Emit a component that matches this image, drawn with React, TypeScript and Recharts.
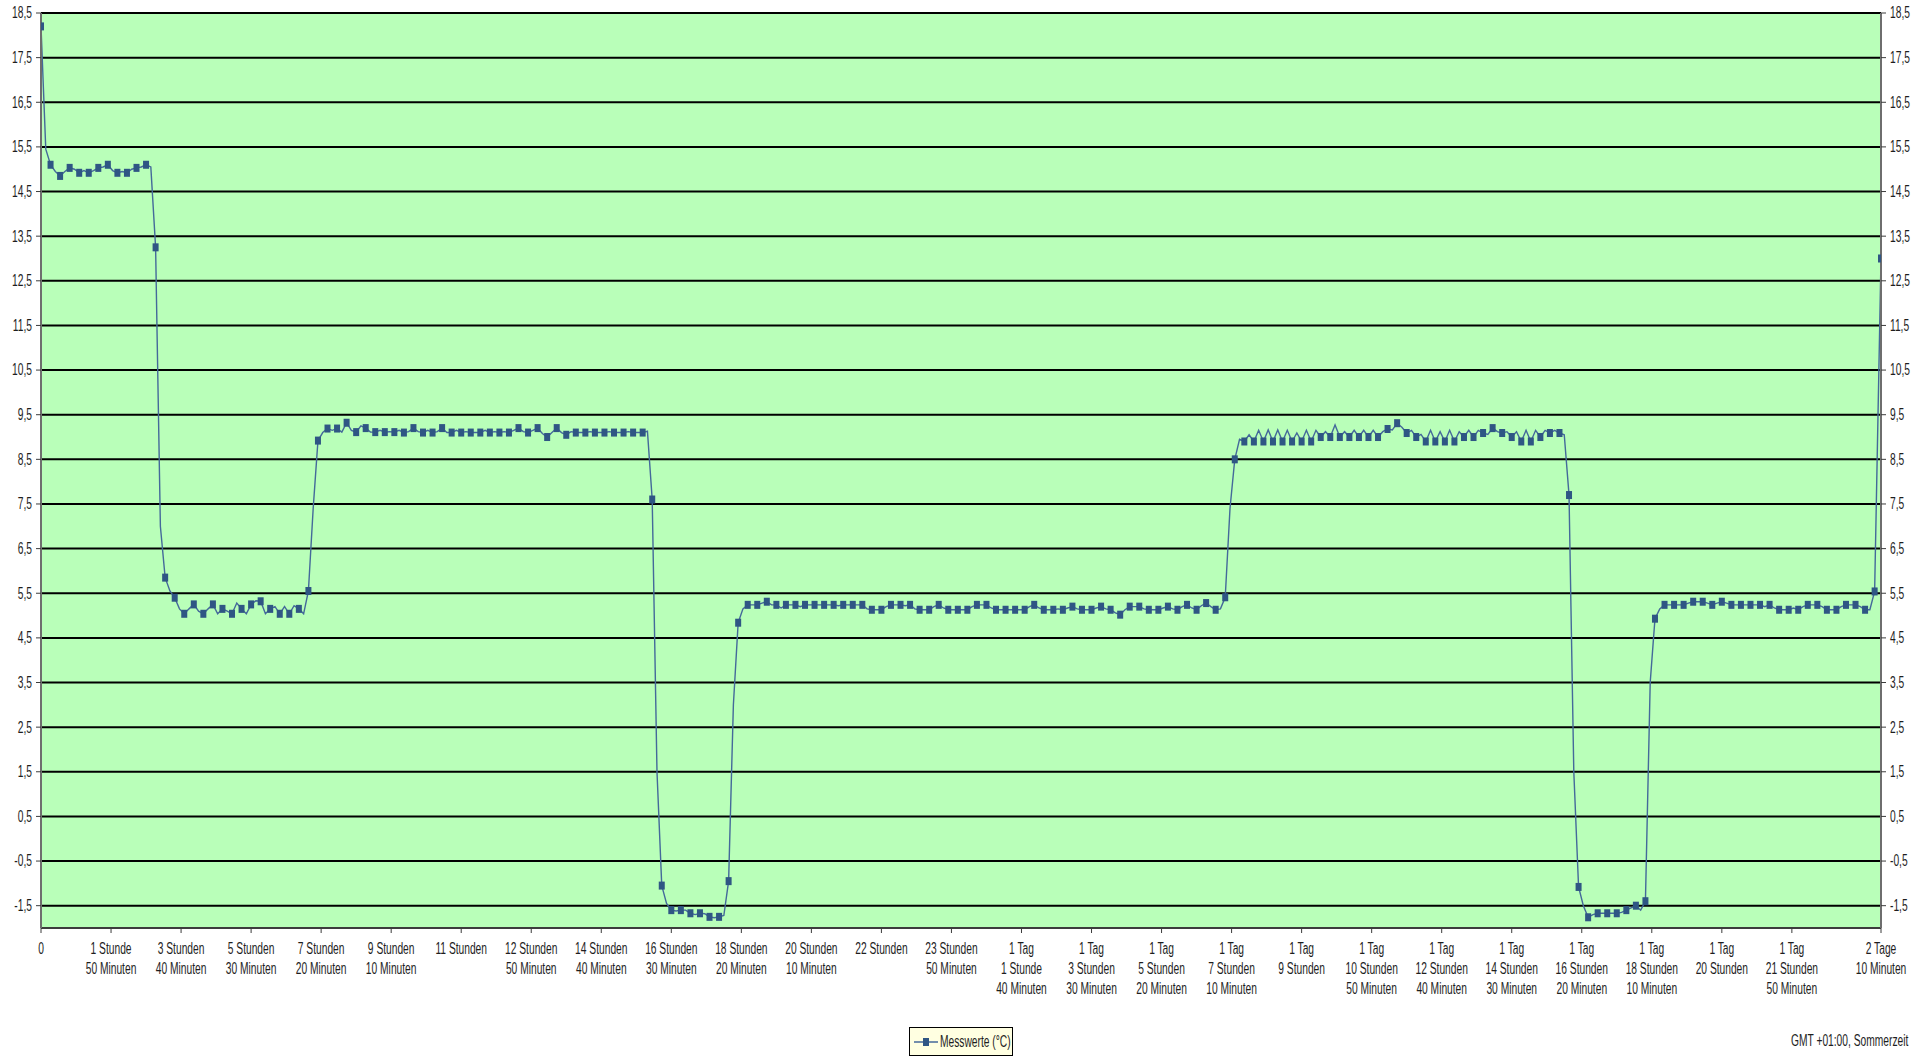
import React from 'react';
import { LineChart, Line, XAxis, YAxis, CartesianGrid } from 'recharts';

// Messpunkte alle 15 Minuten (mit Marker), dazwischen je ein Zwischenwert ohne Marker
const messIntervall = 15;
const endMinute = 2890;
const endWert = 13.0;

const messwerte = [
  18.2, 15.1, 14.85, 15.03, 14.92, 14.92, 15.03, 15.1, 14.92, 14.92,
  15.03, 15.1, 13.25, 5.85, 5.4, 5.04, 5.25, 5.04, 5.25, 5.15,
  5.04, 5.15, 5.25, 5.32, 5.15, 5.04, 5.04, 5.15, 5.55, 8.92,
  9.19, 9.19, 9.32, 9.11, 9.2, 9.11, 9.11, 9.11, 9.1, 9.2,
  9.1, 9.1, 9.2, 9.1, 9.1, 9.1, 9.1, 9.1, 9.1, 9.1,
  9.2, 9.1, 9.2, 9.0, 9.2, 9.05, 9.1, 9.1, 9.1, 9.1,
  9.1, 9.1, 9.1, 9.1, 7.6, -1.05, -1.6, -1.6, -1.67, -1.67,
  -1.75, -1.75, -0.95, 4.84, 5.24, 5.24, 5.31, 5.24, 5.24, 5.24,
  5.24, 5.24, 5.24, 5.24, 5.24, 5.24, 5.24, 5.13, 5.13, 5.24,
  5.24, 5.24, 5.13, 5.13, 5.24, 5.13, 5.13, 5.13, 5.24, 5.24,
  5.13, 5.13, 5.13, 5.13, 5.24, 5.13, 5.13, 5.13, 5.2, 5.13,
  5.13, 5.2, 5.13, 5.02, 5.2, 5.2, 5.13, 5.13, 5.2, 5.13,
  5.24, 5.13, 5.28, 5.13, 5.41, 8.5, 8.9, 8.9, 8.9, 8.9,
  8.9, 8.9, 8.9, 8.9, 9.0, 9.0, 9.0, 9.0, 9.0, 9.0,
  9.0, 9.18, 9.31, 9.09, 9.0, 8.9, 8.9, 8.9, 8.9, 9.0,
  9.0, 9.09, 9.2, 9.09, 9.0, 8.9, 8.9, 9.0, 9.09, 9.09,
  7.7, -1.08, -1.76, -1.67, -1.67, -1.67, -1.6, -1.5, -1.4, 4.93,
  5.24, 5.24, 5.24, 5.31, 5.31, 5.24, 5.31, 5.24, 5.24, 5.24,
  5.24, 5.24, 5.13, 5.13, 5.13, 5.24, 5.24, 5.13, 5.13, 5.24,
  5.24, 5.13, 5.54,
];

const zwischenwerte = [
  15.45, 14.95, 14.95, 15.0, 14.97, 14.97, 15.05, 14.97, 14.95, 15.0,
  15.05, 15.05, 7.0, 5.55, 5.15, 5.15, 5.1, 5.15, 5.04, 5.1,
  5.28, 5.04, 5.33, 5.04, 5.2, 5.2, 5.22, 5.04, 7.4, 9.1,
  9.15, 9.11, 9.15, 9.25, 9.11, 9.15, 9.12, 9.15, 9.12, 9.12,
  9.15, 9.12, 9.1, 9.15, 9.12, 9.1, 9.15, 9.12, 9.12, 9.15,
  9.12, 9.15, 9.08, 9.1, 9.1, 9.12, 9.1, 9.12, 9.1, 9.12,
  9.1, 9.12, 9.1, 9.13, 1.5, -1.45, -1.62, -1.6, -1.7, -1.68,
  -1.77, -1.72, 3.0, 5.15, 5.24, 5.28, 5.24, 5.17, 5.24, 5.2,
  5.24, 5.24, 5.24, 5.22, 5.24, 5.24, 5.15, 5.13, 5.2, 5.24,
  5.22, 5.15, 5.13, 5.2, 5.17, 5.13, 5.13, 5.2, 5.24, 5.17,
  5.13, 5.13, 5.13, 5.2, 5.17, 5.13, 5.15, 5.17, 5.15, 5.13,
  5.17, 5.15, 5.06, 5.13, 5.2, 5.15, 5.13, 5.17, 5.15, 5.2,
  5.17, 5.22, 5.2, 5.15, 7.4, 8.95, 9.05, 9.15, 9.16, 9.16,
  9.15, 9.09, 9.15, 9.15, 9.12, 9.27, 9.12, 9.15, 9.15, 9.15,
  9.12, 9.16, 9.22, 9.15, 9.06, 9.15, 9.12, 9.15, 9.12, 9.15,
  9.15, 9.06, 9.12, 9.12, 9.12, 9.15, 9.15, 9.15, 9.15, 9.05,
  1.5, -1.5, -1.7, -1.67, -1.67, -1.65, -1.55, -1.6, 3.5, 5.15,
  5.24, 5.24, 5.28, 5.31, 5.28, 5.28, 5.28, 5.24, 5.24, 5.24,
  5.2, 5.17, 5.13, 5.17, 5.2, 5.24, 5.2, 5.13, 5.2, 5.24,
  5.2, 5.13,
];

const xTicks = [
  0, 110, 220, 330, 440, 550, 660, 770, 880, 990, 1100, 1210, 1320, 1430,
  1540, 1650, 1760, 1870, 1980, 2090, 2200, 2310, 2420, 2530, 2640, 2750, 2890,
];

const xTickLabels = [
  '0',
  '1 Stunde\n50 Minuten',
  '3 Stunden\n40 Minuten',
  '5 Stunden\n30 Minuten',
  '7 Stunden\n20 Minuten',
  '9 Stunden\n10 Minuten',
  '11 Stunden',
  '12 Stunden\n50 Minuten',
  '14 Stunden\n40 Minuten',
  '16 Stunden\n30 Minuten',
  '18 Stunden\n20 Minuten',
  '20 Stunden\n10 Minuten',
  '22 Stunden',
  '23 Stunden\n50 Minuten',
  '1 Tag\n1 Stunde\n40 Minuten',
  '1 Tag\n3 Stunden\n30 Minuten',
  '1 Tag\n5 Stunden\n20 Minuten',
  '1 Tag\n7 Stunden\n10 Minuten',
  '1 Tag\n9 Stunden',
  '1 Tag\n10 Stunden\n50 Minuten',
  '1 Tag\n12 Stunden\n40 Minuten',
  '1 Tag\n14 Stunden\n30 Minuten',
  '1 Tag\n16 Stunden\n20 Minuten',
  '1 Tag\n18 Stunden\n10 Minuten',
  '1 Tag\n20 Stunden',
  '1 Tag\n21 Stunden\n50 Minuten',
  '2 Tage\n10 Minuten',
];

const yTicks = [
  -1.5, -0.5, 0.5, 1.5, 2.5, 3.5, 4.5, 5.5, 6.5, 7.5, 8.5,
  9.5, 10.5, 11.5, 12.5, 13.5, 14.5, 15.5, 16.5, 17.5, 18.5,
];

const chartData: { t: number; wert: number; marker: boolean }[] = [];
messwerte.forEach((wert, i) => {
  chartData.push({ t: i * messIntervall, wert, marker: true });
  if (i < zwischenwerte.length) {
    chartData.push({ t: i * messIntervall + messIntervall / 2, wert: zwischenwerte[i], marker: false });
  }
});
chartData.push({ t: endMinute, wert: endWert, marker: true });

// schmale Schrift wie im Original: Arial-Metrik, horizontal gestaucht
const FONT = "'Liberation Sans', Arial, sans-serif";
const TEXT_COLOR = '#1e1e1e';
const SQUEEZE = 'scale(0.64,1)';

const XTick = (props: any) => {
  const { x, y, payload } = props;
  const idx = xTicks.indexOf(payload.value);
  const lines = (xTickLabels[idx] ?? '').split('\n');
  return (
    <g transform={`translate(${x},${y})`}>
      <text textAnchor="middle" transform={SQUEEZE} fontFamily={FONT} fontSize={16} fill={TEXT_COLOR}>
        {lines.map((l, j) => (
          <tspan key={j} x={0} dy={j === 0 ? 19 : 20}>{l}</tspan>
        ))}
      </text>
    </g>
  );
};

const fmt = (v: number) => v.toFixed(1).replace('.', ',');

const YTick = (props: any) => {
  const { x, y, payload, side } = props;
  return (
    <g transform={`translate(${x},${y})`}>
      <text
        textAnchor={side === 'left' ? 'end' : 'start'}
        dominantBaseline="central"
        transform={SQUEEZE}
        fontFamily={FONT}
        fontSize={16}
        fill={TEXT_COLOR}
      >
        {fmt(payload.value)}
      </text>
    </g>
  );
};

const renderDot = (props: any) => {
  const { cx, cy, payload, index } = props;
  if (!payload || !payload.marker) return <g key={`d${index}`} />;
  return <rect key={`d${index}`} x={cx - 3} y={cy - 4} width={6} height={8} fill="#2f5684" />;
};

const App: React.FC = () => {
  return (
    <div style={{ position: 'absolute', left: 0, top: 0, width: 1932, height: 1060, background: '#ffffff' }}>
      <LineChart width={1932} height={1060} data={chartData} margin={{ top: 13, right: 0, bottom: 0, left: 0 }}>
        <CartesianGrid
          yAxisId="links"
          vertical={false}
          fill="#b9ffb9"
          fillOpacity={1}
          stroke="#000000"
          strokeWidth={2}
        />
        <XAxis
          dataKey="t"
          type="number"
          domain={[0, endMinute]}
          ticks={xTicks}
          interval={0}
          height={132}
          tickSize={5}
          tickMargin={2}
          tick={<XTick />}
          axisLine={{ stroke: '#3c3c3c', strokeWidth: 2 }}
          tickLine={{ stroke: '#3c3c3c' }}
          allowDataOverflow
        />
        <YAxis
          yAxisId="links"
          domain={[-2, 18.5]}
          ticks={yTicks}
          interval={0}
          width={41}
          tickSize={5}
          tickMargin={4}
          tick={<YTick side="left" />}
          axisLine={{ stroke: '#6e6e6e', strokeWidth: 2 }}
          tickLine={{ stroke: '#3c3c3c' }}
          allowDataOverflow
        />
        <YAxis
          yAxisId="rechts"
          orientation="right"
          domain={[-2, 18.5]}
          ticks={yTicks}
          interval={0}
          width={51}
          tickSize={5}
          tickMargin={4}
          tick={<YTick side="right" />}
          axisLine={{ stroke: '#6e6e6e', strokeWidth: 2 }}
          tickLine={{ stroke: '#3c3c3c' }}
          allowDataOverflow
        />
        <Line
          yAxisId="links"
          name="Messwerte (°C)"
          type="linear"
          dataKey="wert"
          stroke="#44699a"
          strokeWidth={1.4}
          dot={renderDot}
          activeDot={false}
          isAnimationActive={false}
        />
      </LineChart>

      <div
        style={{
          position: 'absolute',
          left: 909,
          top: 1027,
          width: 102,
          height: 27,
          border: '1.5px solid #000',
          background: '#ffffe1',
          display: 'flex',
          alignItems: 'center',
          boxSizing: 'content-box',
          overflow: 'hidden',
        }}
      >
        <svg width={24} height={12} style={{ marginLeft: 4, flexShrink: 0 }}>
          <line x1={0} y1={6} x2={24} y2={6} stroke="#44699a" strokeWidth={1.5} />
          <rect x={9} y={2} width={6} height={8} fill="#2f5684" />
        </svg>
        <span
          style={{
            fontFamily: FONT,
            fontSize: 16,
            color: TEXT_COLOR,
            marginLeft: 2,
            whiteSpace: 'nowrap',
            transform: 'scaleX(0.64)',
            transformOrigin: 'left center',
          }}
        >
          Messwerte (°C)
        </span>
      </div>

      <div
        style={{
          position: 'absolute',
          right: 1932 - 1908,
          top: 1032,
          fontFamily: FONT,
          fontSize: 16,
          color: TEXT_COLOR,
          whiteSpace: 'nowrap',
          transform: 'scaleX(0.64)',
          transformOrigin: 'right center',
        }}
      >
        GMT +01:00, Sommerzeit
      </div>
    </div>
  );
};

export default App;
